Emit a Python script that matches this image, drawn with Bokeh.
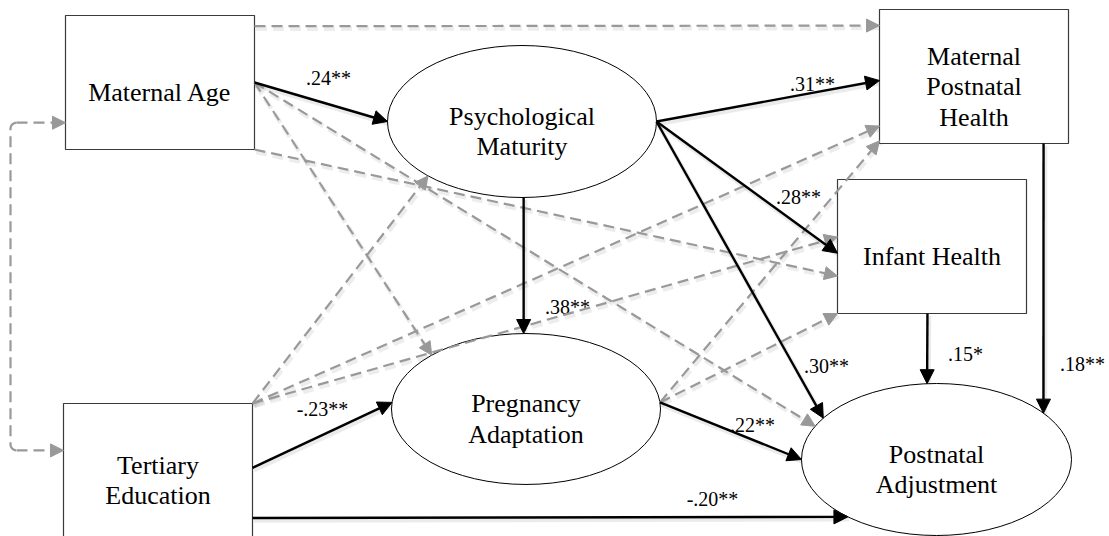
import math
from bokeh.plotting import figure
from bokeh.models import Range1d, Arrow, NormalHead, ColumnDataSource
from bokeh.core.properties import value
from bokeh.embed import file_html
from bokeh.resources import INLINE

# ---------------- data ----------------
node_ids = ["MA", "TE", "PM", "PA", "MPH", "IH", "PADJ"]
node_labels = ["Maternal Age", "Tertiary\nEducation", "Psychological\nMaturity",
               "Pregnancy\nAdaptation", "Maternal\nPostnatal\nHealth",
               "Infant Health", "Postnatal\nAdjustment"]
node_kinds = ["box", "box", "ellipse", "ellipse", "box", "box", "ellipse"]

# significant paths (solid black)
sig_from = ["MA", "PM", "PM", "PM", "PM", "TE", "TE", "PA", "IH", "MPH"]
sig_to = ["PM", "MPH", "IH", "PADJ", "PA", "PA", "PADJ", "PADJ", "PADJ", "PADJ"]
sig_coef = [".24**", ".31**", ".28**", ".30**", ".38**", "-.23**", "-.20**",
            ".22**", ".15*", ".18**"]

# non-significant paths (dashed grey)
ns_from = ["MA", "MA", "MA", "MA", "TE", "TE", "TE", "PA", "PA"]
ns_to = ["MPH", "PA", "PADJ", "IH", "PM", "MPH", "IH", "MPH", "IH"]

# covariance (double-headed)
cov_pair = ["MA", "TE"]

# ---------------- layout ----------------
geom = {
    "MA": (65, 15, 254, 149),
    "TE": (63, 403, 252, 537),
    "MPH": (879, 9, 1068, 143),
    "IH": (837, 179, 1026, 313),
    "PM": (521.5, 121, 269, 152),
    "PA": (525.5, 408.5, 269, 151),
    "PADJ": (936, 459, 270, 152),
}
sig_anchor = [(("R", 0.5), 180), (0, ("L", 0.53)), (0, ("L", 0.55)), (0, 213),
              (89.3, 269), (("R", 0.48), 185), (("R", 0.855), 131), (355, 180),
              (("B", 0.476), 266), (("B", 0.868), 322.4)]
ns_anchor = [(("R", 0.08), ("L", 0.12)), (("R", 0.5), 225.5), (("R", 0.5), 206),
             (("R", 1.0), ("L", 0.72)), (("R", 0.0), 134.3), (("R", 0.0), ("L", 0.87)),
             (("R", 0.0), ("L", 0.43)), (355, ("L", 0.98)), (355, ("L", 1.0))]
coef_pos = [(328, 77), (812, 83), (798, 196), (826, 365), (567, 306), (322, 408),
            (712, 498), (752, 424), (965, 353), (1082, 363)]

W, H = 1109, 536
BLACK = "#000000"
GREY = "#999999"
FONT = value("Liberation Serif")


def kind(n):
    return node_kinds[node_ids.index(n)]


def anchor(n, a):
    g = geom[n]
    if kind(n) == "box":
        side, f = a
        x0, y0, x1, y1 = g
        if side == "L":
            return x0, y0 + f * (y1 - y0)
        if side == "R":
            return x1, y0 + f * (y1 - y0)
        if side == "T":
            return x0 + f * (x1 - x0), y0
        return x0 + f * (x1 - x0), y1
    cx, cy, w, h = g
    r = math.radians(a)
    return cx + w / 2 * math.cos(r), cy + h / 2 * math.sin(r)


def center(n):
    g = geom[n]
    if kind(n) == "box":
        return (g[0] + g[2]) / 2, (g[1] + g[3]) / 2
    return g[0], g[1]


p = figure(width=W, height=H, x_range=Range1d(0, W), y_range=Range1d(H, 0),
           output_backend="svg", toolbar_location=None, min_border=0,
           x_axis_type=None, y_axis_type=None)
p.grid.visible = False
p.outline_line_color = None
p.background_fill_color = "white"
p.border_fill_color = "white"


def edges(froms, tos, anchors):
    d = dict(x0=[], y0=[], x1=[], y1=[])
    for f, t, (af, at) in zip(froms, tos, anchors):
        xs, ys = anchor(f, af)
        xe, ye = anchor(t, at)
        d["x0"].append(xs); d["y0"].append(ys)
        d["x1"].append(xe); d["y1"].append(ye)
    return d


ns = edges(ns_from, ns_to, ns_anchor)
sg = edges(sig_from, sig_to, sig_anchor)

# soft drop shadows of the paths
SH = (1.5, 2.5)
p.segment(x0=[v + SH[0] for v in ns["x0"]], y0=[v + SH[1] for v in ns["y0"]],
          x1=[v + SH[0] for v in ns["x1"]], y1=[v + SH[1] for v in ns["y1"]],
          line_color="black", line_alpha=0.07, line_width=4.5, line_dash="11 6")
p.segment(x0=[v + SH[0] for v in sg["x0"]], y0=[v + SH[1] for v in sg["y0"]],
          x1=[v + SH[0] for v in sg["x1"]], y1=[v + SH[1] for v in sg["y1"]],
          line_color="black", line_alpha=0.08, line_width=4.5)

# nodes
bx = [n for n in node_ids if kind(n) == "box"]
p.quad(left=[geom[n][0] for n in bx], right=[geom[n][2] for n in bx],
       top=[geom[n][1] for n in bx], bottom=[geom[n][3] for n in bx],
       fill_color="white", line_color="#3a3a3a", line_width=1.2)
el = [n for n in node_ids if kind(n) == "ellipse"]
p.ellipse(x=[geom[n][0] for n in el], y=[geom[n][1] for n in el],
          width=[geom[n][2] for n in el], height=[geom[n][3] for n in el],
          fill_color="white", line_color="black", line_width=1)

# node labels
tx, ty, tt = [], [], []
lh = 30.5
for n, lab in zip(node_ids, node_labels):
    cx, cy = center(n)
    lines = lab.split("\n")
    k = len(lines)
    for i, ln in enumerate(lines):
        tx.append(cx)
        ty.append(cy - (k - 1) * lh / 2 + i * lh + 10)
        tt.append(ln)
p.text(x=tx, y=ty, text=tt, text_font=FONT, text_font_size="26px",
       text_align="center", text_baseline="alphabetic", text_color="black")

p.add_layout(Arrow(end=NormalHead(size=13, fill_color=GREY, line_color=GREY, line_width=1),
                   source=ColumnDataSource(ns), x_start="x0", y_start="y0",
                   x_end="x1", y_end="y1", line_color=GREY, line_width=2.2,
                   line_dash="11 6"))

p.add_layout(Arrow(end=NormalHead(size=14, fill_color=BLACK, line_color=BLACK, line_width=1),
                   source=ColumnDataSource(sg), x_start="x0", y_start="y0",
                   x_end="x1", y_end="y1", line_color=BLACK, line_width=2.4))

# covariance path
a, b = cov_pair
ya = anchor(a, ("L", 0.8))[1]
yb = anchor(b, ("L", 0.35))[1]
xl = min(geom[a][0], geom[b][0]) - 53
r = 6
px, py = [], []
for k in range(0, 7):
    t = math.radians(270 - k * 15)
    px.append(xl + r + r * math.cos(t)); py.append(ya + r + r * math.sin(t))
for k in range(0, 7):
    t = math.radians(180 - k * 15)
    px.append(xl + r + r * math.cos(t)); py.append(yb - r + r * math.sin(t))
p.line(px, py, line_color=GREY, line_width=2.2, line_dash="11 6")
cov = dict(x0=[xl + r, xl + r], y0=[ya, yb], x1=[geom[a][0], geom[b][0]], y1=[ya, yb])
p.add_layout(Arrow(end=NormalHead(size=13, fill_color=GREY, line_color=GREY, line_width=1),
                   source=ColumnDataSource(cov), x_start="x0", y_start="y0",
                   x_end="x1", y_end="y1", line_color=GREY, line_width=2.2,
                   line_dash="11 6"))

# coefficients
p.text(x=[c[0] for c in coef_pos], y=[c[1] for c in coef_pos], text=sig_coef,
       text_font=FONT, text_font_size="20px", text_align="center",
       text_baseline="alphabetic", text_color="black")

open("out.html", "w").write(file_html(p, INLINE))
